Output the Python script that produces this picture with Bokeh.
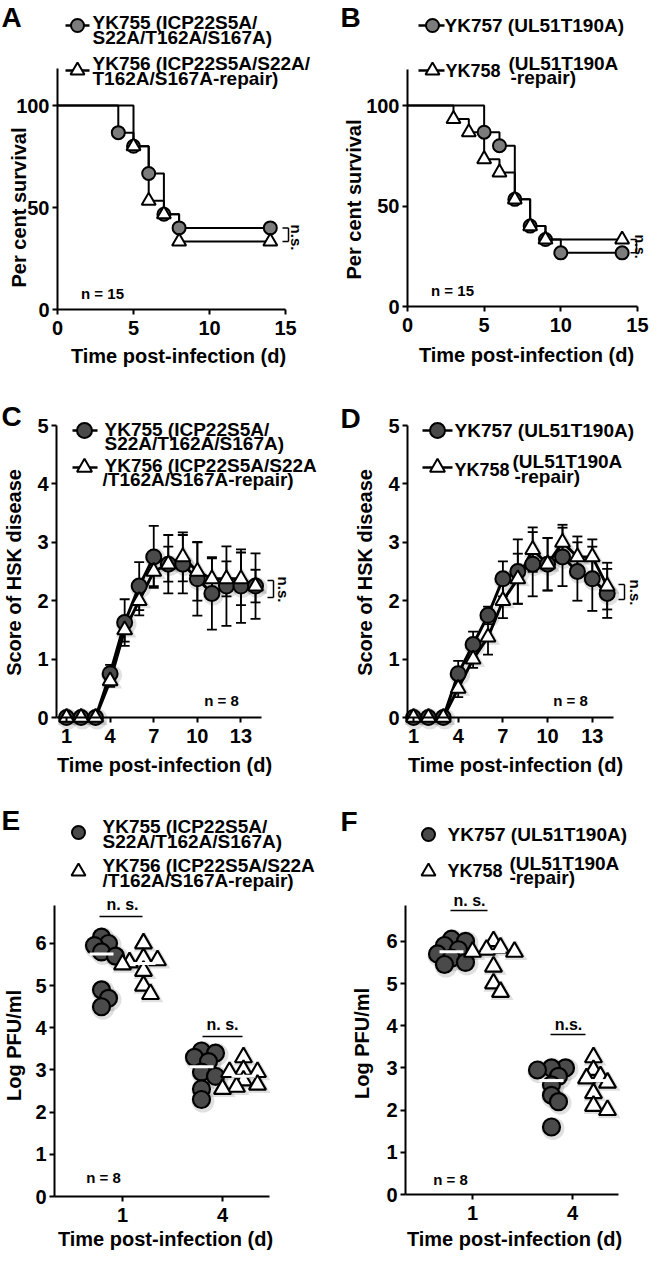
import math
import numpy as np
from bokeh.plotting import figure
from bokeh.layouts import gridplot
from bokeh.models import Range1d, FixedTicker, Label
from bokeh.embed import file_html
from bokeh.resources import INLINE

FONT = "Liberation Sans"

# ---------------- data ----------------
# A: survival (Kaplan-Meier), n = 15
A_t_755 = [0, 4, 5, 6, 7, 8, 14]
A_s_755 = [100, 86.7, 80, 66.7, 46.7, 40, 40]
A_t_756 = [0, 5, 6, 7, 8, 14]
A_s_756 = [100, 80, 53.3, 46.7, 33.3, 33.3]
# B
B_t_757 = [0, 5, 6, 7, 8, 9, 10, 14]
B_s_757 = [100, 86.7, 80, 53.3, 40, 33.3, 26.7, 26.7]
B_t_758 = [0, 3, 4, 5, 6, 7, 8, 9, 14]
B_s_758 = [100, 93.3, 86.7, 73.3, 66.7, 53.3, 40, 33.3, 33.3]

# C/D: HSK score, n = 8
days = list(range(1, 15))
C_755 = [0, 0, 0, 0.75, 1.625, 2.25, 2.75, 2.625, 2.625, 2.375, 2.125, 2.25, 2.25, 2.25]
C_755_err = [0, 0, 0, 0.15, 0.4, 0.41, 0.53, 0.5, 0.5, 0.63, 0.62, 0.68, 0.63, 0.56]
C_756 = [0, 0, 0, 0.625, 1.5, 2.0, 2.5, 2.625, 2.75, 2.5, 2.375, 2.375, 2.375, 2.25]
C_756_err = [0, 0, 0, 0.1, 0.2, 0.25, 0.25, 0.3, 0.42, 0.5, 0.35, 0.3, 0.45, 0.28]
D_757 = [0, 0, 0, 0.75, 1.25, 1.75, 2.375, 2.5, 2.625, 2.625, 2.75, 2.5, 2.375, 2.125]
D_757_err = [0, 0, 0, 0.22, 0.22, 0.15, 0.3, 0.55, 0.55, 0.45, 0.5, 0.5, 0.55, 0.42]
D_758 = [0, 0, 0, 0.5, 1.0, 1.375, 2.0, 2.375, 2.875, 2.625, 3.0, 2.75, 2.75, 2.25]
D_758_err = [0, 0, 0, 0.15, 0.15, 0.3, 0.3, 0.43, 0.38, 0.45, 0.3, 0.35, 0.3, 0.4]

# E/F: Log PFU/ml at day 1 and day 4, n = 8
pfu_days = [1, 4]
E_755 = {1: [6.15, 6.0, 5.95, 5.8, 5.7, 4.9, 4.7, 4.5],
         4: [3.45, 3.4, 3.3, 3.2, 2.95, 2.85, 2.55, 2.3]}
E_756 = {1: [6.0, 5.65, 5.6, 5.55, 5.5, 5.35, 5.0, 4.8],
         4: [3.3, 3.0, 2.95, 2.95, 2.75, 2.65, 2.6, 2.55]}
F_757 = {1: [6.05, 6.0, 5.9, 5.8, 5.7, 5.6, 5.5, 5.45],
         4: [3.0, 3.0, 2.95, 2.8, 2.6, 2.35, 2.2, 1.6]}
F_758 = {1: [6.0, 5.85, 5.8, 5.75, 5.75, 5.4, 5.0, 4.8],
         4: [3.25, 2.95, 2.8, 2.75, 2.65, 2.4, 2.1, 2.0]}

LEG_755 = ["YK755 (ICP22S5A/", "S22A/T162A/S167A)"]
LEG_756_AB = ["YK756 (ICP22S5A/S22A/", "T162A/S167A-repair)"]
LEG_756 = ["YK756 (ICP22S5A/S22A", "/T162A/S167A-repair)"]
LEG_757 = "YK757 (UL51T190A)"
LEG_758 = ["YK758", "(UL51T190A", "-repair)"]

GRAY_AB = "#7c7c7c"
GRAY = "#4a4a4a"


class Panel:
    """Figure whose frame fills the whole canvas; axes drawn at fixed locations."""

    def __init__(self, ox, oy, W, H, ax_ix, xa, xs, ax_iy, ya, ys):
        self.ax_ix, self.xa, self.xs = ax_ix, xa, xs
        self.ax_iy, self.ya, self.ys = ax_iy, ya, ys
        p = figure(width=W, height=H, output_backend="svg", toolbar_location=None,
                   x_range=Range1d(self.X(ox), self.X(ox + W)),
                   y_range=Range1d(self.Y(oy + H), self.Y(oy)),
                   min_border_left=0, min_border_right=0, min_border_top=0,
                   min_border_bottom=0)
        p.min_border = 0
        p.outline_line_color = None
        p.grid.visible = False
        self.p = p

    def X(self, ix):
        return self.xa + (ix - self.ax_ix) / self.xs

    def Y(self, iy):
        return self.ya + (self.ax_iy - iy) / self.ys

    def text(self, ix, iy, txt, size, align="left", angle=0.0, baseline="middle"):
        self.p.add_layout(Label(x=self.X(ix), y=self.Y(iy), text=txt, text_font=FONT,
                                text_font_style="bold", text_font_size=f"{size}px",
                                text_align=align, text_baseline=baseline, angle=angle,
                                text_color="black"))

    def axes(self, xticks, yticks, xb, yb):
        p = self.p
        for ax in (p.xaxis[0], p.yaxis[0]):
            ax.axis_line_width = 2
            ax.axis_line_color = "black"
            ax.major_tick_line_width = 2
            ax.major_tick_line_color = "black"
            ax.major_tick_in = 0
            ax.major_tick_out = 5
            ax.minor_tick_line_color = None
            ax.major_label_text_font = FONT
            ax.major_label_text_font_style = "bold"
            ax.major_label_text_font_size = "20px"
            ax.major_label_text_color = "black"
        p.xaxis[0].ticker = FixedTicker(ticks=xticks)
        p.yaxis[0].ticker = FixedTicker(ticks=yticks)
        p.xaxis[0].bounds = xb
        p.yaxis[0].bounds = yb
        p.xaxis[0].fixed_location = self.ya
        p.yaxis[0].fixed_location = self.xa
        p.xaxis[0].major_label_standoff = 6
        p.yaxis[0].major_label_standoff = 3

    def hseg(self, ix0, ix1, iy, w=2, color="black"):
        self.p.segment(x0=[self.X(ix0)], y0=[self.Y(iy)], x1=[self.X(ix1)], y1=[self.Y(iy)],
                       line_color=color, line_width=w)

    def legend_marker(self, ix, iy, marker, fill, size, line=None):
        if line is not None:
            self.hseg(line[0], line[1], iy, w=2.5)
        self.p.scatter(x=[self.X(ix)], y=[self.Y(iy)], marker=marker, size=size,
                       fill_color=fill, line_color="black", line_width=2)


def survival_panel(P, t1, s1, t2, s2):
    p = P.p
    p.step(t2, s2, mode="after", line_color="black", line_width=2)
    p.step(t1, s1, mode="after", line_color="black", line_width=2)
    p.scatter(t1[1:], s1[1:], marker="circle", size=13, fill_color=GRAY_AB,
              line_color="black", line_width=2)
    p.scatter(t2[1:], s2[1:], marker="triangle", size=14, fill_color="white",
              line_color="black", line_width=2)


def bracket_data(P, ix0, ix1, y_top, y_bot):
    x0, x1 = P.X(ix0), P.X(ix1)
    P.p.segment(x0=[x0, x1, x0], y0=[y_top, y_top, y_bot], x1=[x1, x1, x1],
                y1=[y_top, y_bot, y_bot], line_color="black", line_width=1.5)


def bracket_px(P, ix0, ix1, iy_top, iy_bot):
    bracket_data(P, ix0, ix1, P.Y(iy_top), P.Y(iy_bot))


def score_panel(P, m1, e1, m2, e2):
    p = P.p
    cap = 5.0 / P.xs
    for m, e in ((m1, e1), (m2, e2)):
        xs_ = [d for d, v in zip(days, e) if v > 0]
        lo = [mm - v for mm, v in zip(m, e) if v > 0]
        hi = [mm + v for mm, v in zip(m, e) if v > 0]
        p.segment(x0=xs_, y0=lo, x1=xs_, y1=hi, line_color="black", line_width=1.8)
        p.segment(x0=[x - cap for x in xs_], y0=hi, x1=[x + cap for x in xs_], y1=hi,
                  line_color="black", line_width=1.8)
        p.segment(x0=[x - cap for x in xs_], y0=lo, x1=[x + cap for x in xs_], y1=lo,
                  line_color="black", line_width=1.8)
    p.line(days, m1, line_color="black", line_width=3)
    p.line(days, m2, line_color="black", line_width=3)
    sx, sy = 1.5 / P.xs, -1.5 / P.ys
    p.scatter([d + sx for d in days], [v + sy for v in m1], marker="circle", size=21,
              fill_color="black", fill_alpha=0.12, line_color=None)
    p.scatter([d + sx for d in days], [v + sy for v in m2], marker="triangle", size=21,
              fill_color="black", fill_alpha=0.12, line_color=None)
    p.scatter(days, m1, marker="circle", size=15, fill_color=GRAY,
              line_color="black", line_width=2)
    p.scatter(days, m2, marker="triangle", size=15, fill_color="white",
              line_color="black", line_width=2)


def swarm(vals, center, P, step=7.0, dmin=9.0):
    order = np.argsort(vals)[::-1]
    placed = []
    out = [0.0] * len(vals)
    cands = [0, step, -step, 2 * step, -2 * step, 3 * step, -3 * step]
    for i in order:
        yv = vals[i] * P.ys
        chosen = cands[-1]
        for c in cands:
            if all((c - px) ** 2 + (yv - py) ** 2 >= dmin ** 2 for px, py in placed):
                chosen = c
                break
        placed.append((chosen, yv))
        out[i] = center + chosen / P.xs
    return out


def pfu_panel(P, g1, g2):
    p = P.p
    off = 0.63
    half = 12.0 / P.xs
    for d in pfu_days:
        for grp, sign, marker, fill in ((g1, -1, "circle", GRAY), (g2, 1, "triangle", "white")):
            vals = grp[d]
            c = d + sign * off
            xs_ = swarm(vals, c, P)
            sx, sy = 1.5 / P.xs, -1.5 / P.ys
            p.scatter([x + sx for x in xs_], [v + sy for v in vals], marker=marker, size=23,
                      fill_color="black", fill_alpha=0.12, line_color=None)
            p.scatter(xs_, vals, marker=marker, size=17, fill_color=fill,
                      line_color="black", line_width=2.2)
            med = float(np.median(vals))
            p.segment(x0=[c - half], y0=[med], x1=[c + half], y1=[med],
                      line_color="white", line_width=3)


# ---------------- Panel A ----------------
PA = Panel(8, 8, 325, 385, 65, 0, 15.2, 317, 0, 2.04)
PA.axes([0, 5, 10, 15], [0, 50, 100], (0, 15), (0, 118))
survival_panel(PA, A_t_755, A_s_755, A_t_756, A_s_756)
PA.legend_marker(85, 33, "circle", GRAY_AB, 13, (73, 97))
PA.text(100, 30, LEG_755[0], 19)
PA.text(100, 45, LEG_755[1], 19)
PA.legend_marker(85, 78, "triangle", "white", 14, (73, 97))
PA.text(100, 71, LEG_756_AB[0], 19)
PA.text(100, 86, LEG_756_AB[1], 19)
bracket_data(PA, 290, 296, A_s_755[-1], A_s_756[-1])
PA.text(304, 245, "n.s.", 15, align="center", angle=-math.pi / 2)
PA.text(110, 301, "n = 15", 15, align="center")
PA.text(26, 215, "Per cent survival", 20, align="center", angle=math.pi / 2)
PA.text(186, 363, "Time post-infection (d)", 20, align="center")
PA.text(9, 9, "A", 28, baseline="top")

# ---------------- Panel B ----------------
PB = Panel(333, 8, 325, 385, 415, 0, 15.33, 314, 0, 2.01)
PB.axes([0, 5, 10, 15], [0, 50, 100], (0, 15), (0, 118))
survival_panel(PB, B_t_757, B_s_757, B_t_758, B_s_758)
PB.legend_marker(440, 33, "circle", GRAY_AB, 13, (426, 452))
PB.text(452, 33, LEG_757, 19)
PB.legend_marker(440, 78, "triangle", "white", 14, (426, 452))
PB.text(453, 78, LEG_758[0], 18)
PB.text(516, 71, LEG_758[1], 19)
PB.text(518, 85, LEG_758[2], 19)
bracket_data(PB, 638, 644, B_s_758[-1], B_s_757[-1])
PB.text(647, 254, "n.s.", 14, align="center", angle=-math.pi / 2)
PB.text(460, 298, "n = 15", 15, align="center")
PB.text(361, 207, "Per cent survival", 20, align="center", angle=math.pi / 2)
PB.text(534, 362, "Time post-infection (d)", 20, align="center")
PB.text(348, 9, "B", 28, baseline="top")

# ---------------- Panel C ----------------
PC = Panel(8, 393, 325, 403, 64, 0.312, 14.54, 725, 0, 58.4)
PC.axes([1, 4, 7, 10, 13], [0, 1, 2, 3, 4, 5], (0.312, 14.4), (0, 5))
score_panel(PC, C_755, C_755_err, C_756, C_756_err)
PC.legend_marker(92, 438, "circle", GRAY, 15, (80, 105))
PC.text(112, 437, LEG_755[0], 19)
PC.text(112, 451, LEG_755[1], 19)
PC.legend_marker(92, 475, "triangle", "white", 15, (80, 105))
PC.text(112, 473, LEG_756[0], 19)
PC.text(110, 487, LEG_756[1], 19)
bracket_px(PC, 275, 281, 588, 605)
PC.text(291, 597, "n.s.", 15, align="center", angle=-math.pi / 2)
PC.text(229, 708, "n = 8", 15, align="center")
PC.text(21, 580, "Score of HSK disease", 20, align="center", angle=math.pi / 2)
PC.text(172, 772, "Time post-infection (d)", 20, align="center")
PC.text(9, 408, "C", 28, baseline="top")

# ---------------- Panel D ----------------
PD = Panel(333, 393, 325, 403, 415, 0.597, 14.9, 725, 0, 58.4)
PD.axes([1, 4, 7, 10, 13], [0, 1, 2, 3, 4, 5], (0.597, 14.4), (0, 5))
score_panel(PD, D_757, D_757_err, D_758, D_758_err)
PD.legend_marker(445, 438, "circle", GRAY, 15, (430, 460))
PD.text(462, 438, LEG_757, 19)
PD.legend_marker(445, 475, "triangle", "white", 15, (430, 460))
PD.text(462, 477, LEG_758[0], 18)
PD.text(520, 469, LEG_758[1], 19)
PD.text(522, 484, LEG_758[2], 19)
bracket_px(PD, 626, 632, 592, 607)
PD.text(643, 600, "n.s.", 15, align="center", angle=-math.pi / 2)
PD.text(578, 708, "n = 8", 15, align="center")
PD.text(372, 580, "Score of HSK disease", 20, align="center", angle=math.pi / 2)
PD.text(523, 772, "Time post-infection (d)", 20, align="center")
PD.text(348, 410, "D", 28, baseline="top")

# ---------------- Panel E ----------------
PE = Panel(8, 796, 325, 463, 62, -1.04, 33.33, 1204, 0, 42.17)
PE.axes(pfu_days, [0, 1, 2, 3, 4, 5, 6], (-1.04, 5.41), (0, 6.9))
pfu_panel(PE, E_755, E_756)
PE.legend_marker(86, 840, "circle", GRAY, 13)
PE.text(110, 834, LEG_755[0], 19)
PE.text(110, 849, LEG_755[1], 19)
PE.legend_marker(86, 879, "triangle", "white", 14)
PE.text(110, 873, LEG_756[0], 19)
PE.text(110, 888, LEG_756[1], 19)
PE.hseg(107, 150, 924, w=1.5)
PE.text(130, 912, "n. s.", 16, align="center")
PE.hseg(210, 250, 1044, w=1.5)
PE.text(230, 1032, "n. s.", 16, align="center")
PE.text(111, 1185, "n = 8", 15, align="center")
PE.text(21, 1053, "Log PFU/ml", 20, align="center", angle=math.pi / 2)
PE.text(173, 1246, "Time post-infection (d)", 20, align="center")
PE.text(9, 812, "E", 28, baseline="top")

# ---------------- Panel F ----------------
PF = Panel(333, 796, 325, 463, 413, -1.01, 33.33, 1202, 0, 42.2)
PF.axes(pfu_days, [0, 1, 2, 3, 4, 5, 6], (-1.01, 5.38), (0, 6.85))
pfu_panel(PF, F_757, F_758)
PF.legend_marker(436, 842, "circle", GRAY, 13)
PF.text(455, 842, LEG_757, 19)
PF.legend_marker(436, 879, "triangle", "white", 14)
PF.text(455, 878, LEG_758[0], 18)
PF.text(517, 871, LEG_758[1], 19)
PF.text(517, 885, LEG_758[2], 19)
PF.hseg(458, 495, 918, w=1.5)
PF.text(477, 908, "n. s.", 16, align="center")
PF.hseg(558, 593, 1042, w=1.5)
PF.text(576, 1032, "n.s.", 16, align="center")
PF.text(458, 1187, "n = 8", 15, align="center")
PF.text(369, 1051, "Log PFU/ml", 20, align="center", angle=math.pi / 2)
PF.text(522, 1246, "Time post-infection (d)", 20, align="center")
PF.text(348, 813, "F", 28, baseline="top")

grid = gridplot([[PA.p, PB.p], [PC.p, PD.p], [PE.p, PF.p]], toolbar_location=None)

open("out.html", "w").write(file_html(grid, INLINE))
